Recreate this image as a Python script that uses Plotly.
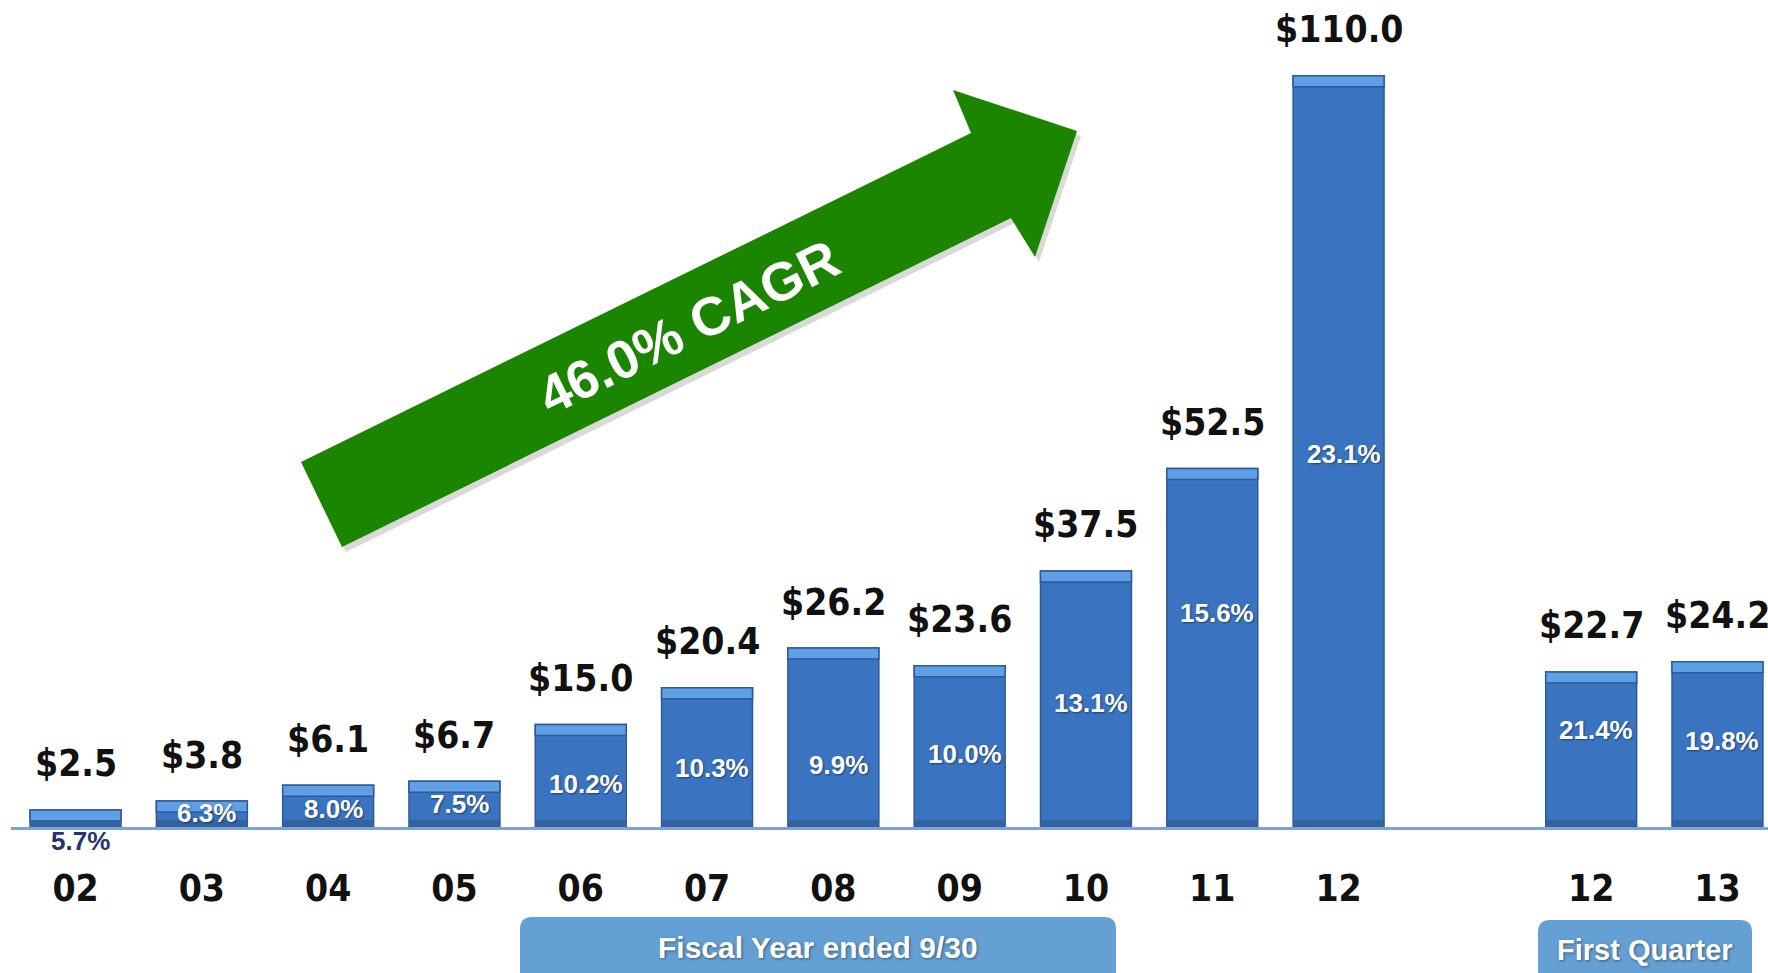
import plotly.graph_objects as go

# ---------------- data ----------------
years = ["02", "03", "04", "05", "06", "07", "08", "09", "10", "11", "12", "12", "13"]
categories = ["FY02", "FY03", "FY04", "FY05", "FY06", "FY07", "FY08", "FY09", "FY10",
              "FY11", "FY12", "Q1 FY12", "Q1 FY13"]
revenue = [2.5, 3.8, 6.1, 6.7, 15.0, 20.4, 26.2, 23.6, 37.5, 52.5, 110.0, 22.7, 24.2]
margin_pct = ["5.7%", "6.3%", "8.0%", "7.5%", "10.2%", "10.3%", "9.9%", "10.0%",
              "13.1%", "15.6%", "23.1%", "21.4%", "19.8%"]
cagr_text = "46.0% CAGR"
fiscal_label = "Fiscal Year ended 9/30"
quarter_label = "First Quarter"

# ---------------- layout helpers ----------------
W, H = 1768, 973
ML, MR, MT, MB = 11, 0, 0, 146
PW, PH = W - ML - MR, H - MT - MB
YMAX = 121.1
axis_order = categories[:11] + ["gap"] + categories[11:]
# label heights (data units) for the margin labels inside the bars
pct_label_y = [-2.05, 2.05, 2.7, 3.37, 6.34, 8.64, 9.15, 10.7, 18.2, 31.3, 54.6, 14.2, 12.6]
top_band = 11 * YMAX / PH     # light bevel band on the bar tops (11 px)
bottom_band = 7 * YMAX / PH   # darker bevel band at the bar bottoms (7 px)


def px(x):
    return (x - ML) / PW


def py(y):
    return (MT + PH - y) / PH


def poly(points):
    return "M " + " L ".join(f"{px(x):.5f},{py(y):.5f}" for x, y in points) + " Z"


def rounded_rect(x0, y0, x1, y1, r):
    return (f"M {px(x0 + r):.5f},{py(y0):.5f} L {px(x1 - r):.5f},{py(y0):.5f} "
            f"Q {px(x1):.5f},{py(y0):.5f} {px(x1):.5f},{py(y0 + r):.5f} "
            f"L {px(x1):.5f},{py(y1 - r):.5f} "
            f"Q {px(x1):.5f},{py(y1):.5f} {px(x1 - r):.5f},{py(y1):.5f} "
            f"L {px(x0 + r):.5f},{py(y1):.5f} "
            f"Q {px(x0):.5f},{py(y1):.5f} {px(x0):.5f},{py(y1 - r):.5f} "
            f"L {px(x0):.5f},{py(y0 + r):.5f} "
            f"Q {px(x0):.5f},{py(y0):.5f} {px(x0 + r):.5f},{py(y0):.5f} Z")


VAL_FONT = dict(family="DejaVu Sans Condensed, DejaVu Sans", size=37, color="#111111", weight="bold")
PCT_FONT = dict(family="Liberation Sans, Arial", size=26, color="white", weight="bold",
                shadow="1px 1px 2px rgba(0,0,0,0.45)")
PCT_FONT_OUT = dict(family="Liberation Sans, Arial", size=26, color="#1F3470", weight="bold")
BOX_SHADOW = "1px 1px 3px rgba(0,0,0,0.45)"

fig = go.Figure()
fig.add_trace(go.Bar(
    x=categories, y=revenue, width=0.72,
    marker=dict(color="#3A74C0", line=dict(color="#2D5B98", width=1.5)),
    hoverinfo="skip", showlegend=False,
))
fig.add_trace(go.Bar(
    x=categories, y=[min(bottom_band, v) for v in revenue], width=0.72,
    marker=dict(color="#32629F", line=dict(width=0)),
    hoverinfo="skip", showlegend=False,
))
fig.add_trace(go.Bar(
    x=categories, y=[top_band] * len(revenue), base=[v - top_band for v in revenue], width=0.72,
    marker=dict(color="#5E9FE6", line=dict(color="#2D5B98", width=1.5)),
    hoverinfo="skip", showlegend=False,
))

annotations = []
for cat, v, pct, ly in zip(categories, revenue, margin_pct, pct_label_y):
    annotations.append(dict(x=cat, y=v, xref="x", yref="y", text=f"${v:.1f}", showarrow=False,
                            xanchor="center", yanchor="middle", yshift=46, font=VAL_FONT))
    annotations.append(dict(x=cat, y=ly / YMAX, xref="x", yref="paper", text=pct, showarrow=False,
                            xanchor="center", yanchor="middle", xshift=5,
                            font=PCT_FONT if ly > 0 else PCT_FONT_OUT))

# CAGR text along the arrow
annotations.append(dict(x=px(688), y=py(327), xref="paper", yref="paper", text=cagr_text,
                        showarrow=False, textangle=-26.2, xanchor="center", yanchor="middle",
                        font=dict(family="Liberation Sans, Arial", size=54, color="white", weight="bold")))
# bottom boxes text
annotations.append(dict(x=px(818), y=py(947), xref="paper", yref="paper", text=fiscal_label,
                        showarrow=False, xanchor="center", yanchor="middle",
                        font=dict(family="Liberation Sans, Arial", size=30, color="white",
                                  weight="bold", shadow=BOX_SHADOW)))
annotations.append(dict(x=px(1645), y=py(950), xref="paper", yref="paper", text=quarter_label,
                        showarrow=False, xanchor="center", yanchor="middle",
                        font=dict(family="Liberation Sans, Arial", size=29, color="white",
                                  weight="bold", shadow=BOX_SHADOW)))

arrow = [(301, 462), (971, 133), (953, 90), (1077, 131), (1035, 257), (1011, 218), (342, 547)]
shadow = [(x + 4, y + 5) for x, y in arrow]
shapes = [
    dict(type="path", xref="paper", yref="paper", path=poly(shadow),
         fillcolor="rgba(0,0,0,0.15)", line=dict(width=0), layer="below"),
    dict(type="path", xref="paper", yref="paper", path=poly(arrow),
         fillcolor="#1B8500", line=dict(width=0), layer="above"),
    dict(type="path", xref="paper", yref="paper", path=rounded_rect(520, 917, 1116, 990, 12),
         fillcolor="#65A0D4", line=dict(width=0)),
    dict(type="path", xref="paper", yref="paper", path=rounded_rect(1538, 920, 1752, 990, 12),
         fillcolor="#65A0D4", line=dict(width=0)),
]

fig.update_layout(
    width=W, height=H,
    margin=dict(l=ML, r=MR, t=MT, b=MB, pad=0),
    paper_bgcolor="white", plot_bgcolor="white",
    barmode="overlay", showlegend=False,
    annotations=annotations, shapes=shapes,
    xaxis=dict(type="category", categoryorder="array", categoryarray=axis_order,
               range=[-0.511, 13.40], tickvals=categories, ticktext=years,
               ticks="outside", ticklen=27, tickcolor="rgba(0,0,0,0)",
               tickfont=VAL_FONT, showline=True, linecolor="#7CA2D8", linewidth=3,
               showgrid=False, zeroline=False, automargin=False, fixedrange=True),
    yaxis=dict(range=[0, YMAX], visible=False, showgrid=False, zeroline=False,
               automargin=False, fixedrange=True),
)

fig.write_html("out.html", config={"displayModeBar": False},
               post_script="document.body.style.margin='0';")
